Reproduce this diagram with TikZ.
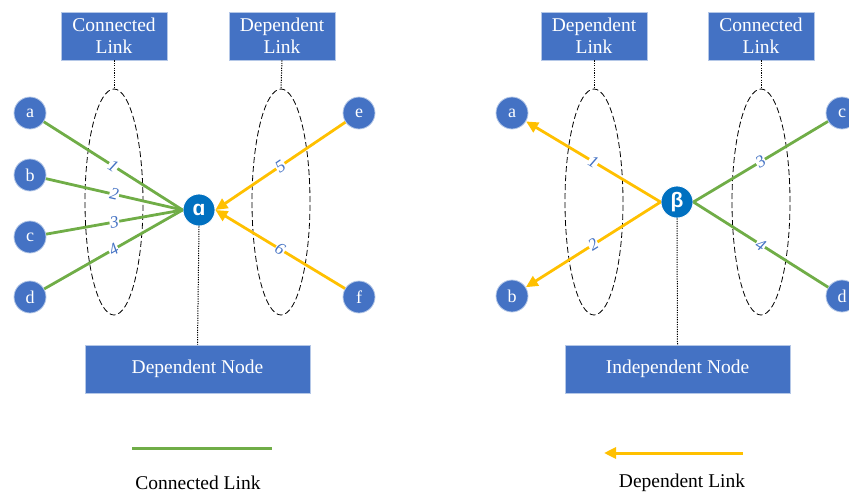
\documentclass[tikz,border=0pt]{standalone}
\usepackage{fontspec}
\setmainfont{Liberation Serif}
\newfontfamily\symfont{Liberation Sans}
\usetikzlibrary{arrows.meta,shapes.geometric}
\definecolor{boxblue}{HTML}{4472C4}
\definecolor{darkblue}{HTML}{0070C0}
\definecolor{lgreen}{HTML}{70AD47}
\definecolor{lyellow}{HTML}{FFC000}
\tikzset{
  labelbox/.style={rectangle, fill=boxblue, draw=boxblue!40, line width=0.8pt, text=white, minimum width=106pt, minimum height=48pt, align=center, font=\fontsize{19.5}{22}\selectfont, inner sep=0pt},
  bigbox/.style={rectangle, fill=boxblue, draw=boxblue!40, line width=0.8pt, text=white, minimum width=225pt, minimum height=48pt, font=\fontsize{19.5}{22}\selectfont, inner sep=0pt},
  leaf/.style={circle, fill=boxblue, draw=boxblue!40, line width=0.8pt, text=white, minimum size=32pt, inner sep=0pt, font=\fontsize{18}{18}\selectfont},
  hub/.style={circle, fill=darkblue, draw=white, line width=0.8pt, text=white, minimum size=32pt, inner sep=0pt, font=\symfont\bfseries\fontsize{21}{21}\selectfont},
  ring/.style={ellipse, draw=black, dash pattern=on 6pt off 3pt, line width=0.8pt, minimum width=58pt, minimum height=226pt, inner sep=0pt},
  dotline/.style={draw=black, dash pattern=on 1.2pt off 1.2pt, line width=1pt},
  conn/.style={draw=lgreen, line width=2.8pt},
  dep/.style={draw=lyellow, line width=2.8pt, -{Triangle[length=12pt,width=11pt]}},
  num/.style={fill=white, inner sep=0.6pt, text=boxblue, sloped, font=\itshape\fontsize{17}{17}\selectfont},
  legend/.style={font=\fontsize{19.5}{22}\selectfont, text=black, inner sep=0pt}
}
\begin{document}
\begin{tikzpicture}[x=1pt,y=-1pt]
\useasboundingbox (0,0) rectangle (849,496);
\clip (0,0) rectangle (849,496);
% ---------------- left part ----------------
\node[labelbox] (lcl) at (114,36) {Connected\\Link};
\node[labelbox] (ldl) at (282,36) {Dependent\\Link};
\node[ring] (lr1) at (114,202) {};
\node[ring] (lr2) at (281,202) {};
\draw[dotline] (lcl.south) -- (lr1.north);
\draw[dotline] (ldl.south) -- (lr2.north);
\node[leaf] (la) at (30,113) {a};
\node[leaf] (lb) at (30,175) {b};
\node[leaf] (lc) at (30,237) {c};
\node[leaf] (ld) at (30,297) {d};
\node[leaf] (le) at (359,113) {e};
\node[leaf] (lf) at (359,297) {f};
\node[hub] (alpha) at (199,210) {ɑ};
\node[bigbox] (dn) at (197.5,369) {Dependent Node};
\draw[dotline] (alpha.south) -- (dn.north);
\draw[conn] (la) -- node[num]{1} (alpha.west);
\draw[conn] (lb) -- node[num]{2} (alpha.west);
\draw[conn] (lc) -- node[num]{3} (alpha.west);
\draw[conn] (ld) -- node[num]{4} (alpha.west);
\draw[dep] (le) -- node[num]{5} (alpha.east);
\draw[dep] (lf) -- node[num]{6} (alpha.east);
% ---------------- right part ----------------
\node[labelbox] (rdl) at (594,36) {Dependent\\Link};
\node[labelbox] (rcl) at (761,36) {Connected\\Link};
\node[ring] (rr1) at (594,202) {};
\node[ring] (rr2) at (761,202) {};
\draw[dotline] (rdl.south) -- (rr1.north);
\draw[dotline] (rcl.south) -- (rr2.north);
\node[leaf] (ra) at (512,113) {a};
\node[leaf] (rb) at (512,296) {b};
\node[leaf] (rc) at (842,113) {c};
\node[leaf] (rd) at (842,296) {d};
\node[hub] (beta) at (677,202) {β};
\node[bigbox] (in) at (677.5,369) {Independent Node};
\draw[dotline] (beta.south) -- (in.north);
\draw[dep] (beta.west) -- node[num]{1} (ra);
\draw[dep] (beta.west) -- node[num]{2} (rb);
\draw[conn] (beta.east) -- node[num]{3} (rc);
\draw[conn] (beta.east) -- node[num]{4} (rd);
% ---------------- legend ----------------
\coordinate (g1) at (132,448);
\coordinate (g2) at (272,448);
\draw[conn, line width=3pt] (g1) -- (g2);
\node[legend] (gl) at (198,483) {Connected Link};
\coordinate (y1) at (743,453);
\coordinate (y2) at (604,453);
\draw[dep, line width=3pt] (y1) -- (y2);
\node[legend] (yl) at (682,483) {Dependent Link};
\end{tikzpicture}
\end{document}
